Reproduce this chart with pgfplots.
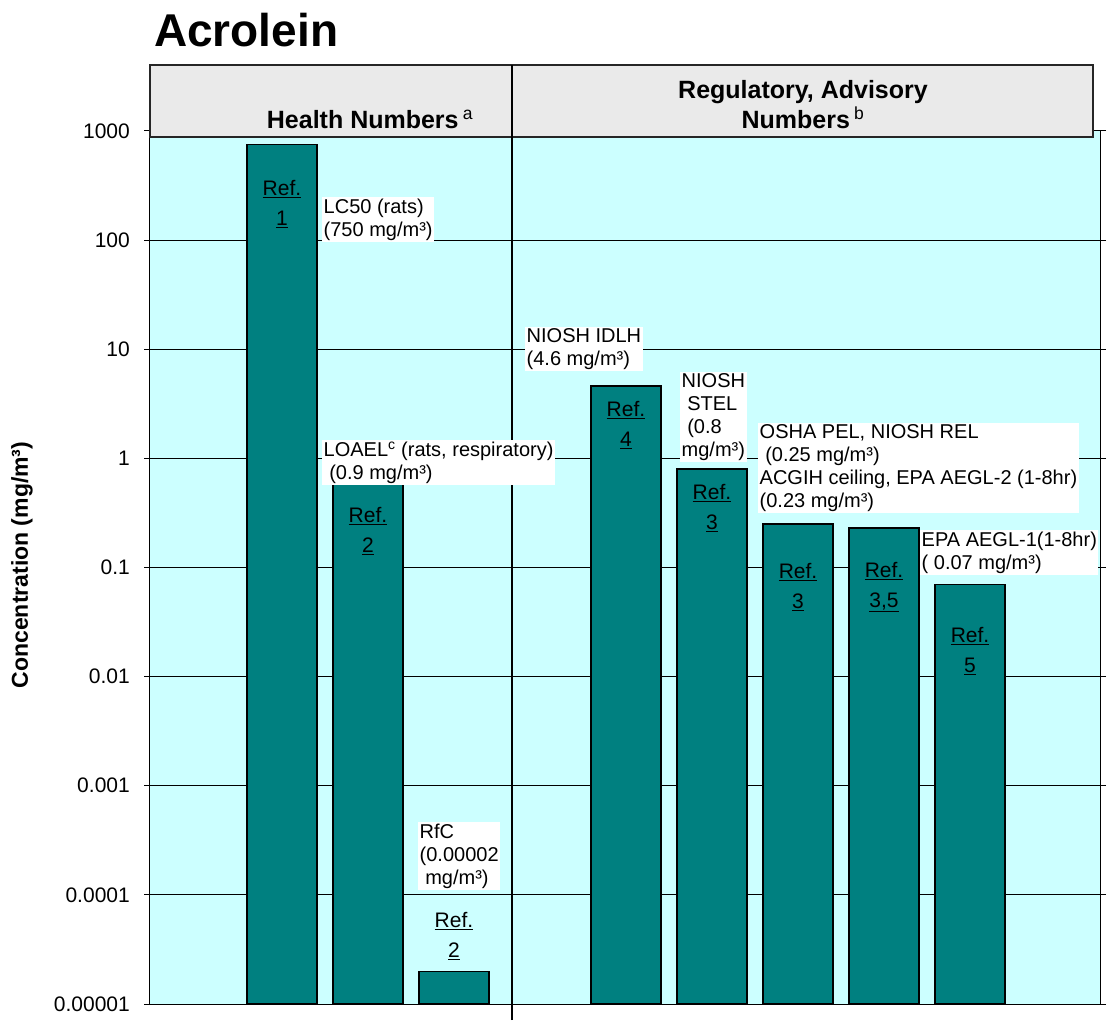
\documentclass[border=0pt]{standalone}
\usepackage{pgfplots}
\pgfplotsset{compat=1.18}
\usepackage{fontspec}
\setmainfont{Liberation Sans}

\definecolor{plotbg}{HTML}{CCFFFF}
\definecolor{barteal}{HTML}{008080}
\definecolor{headgray}{HTML}{EAEAEA}

\newcommand{\ann}{\fontsize{20}{23}\selectfont}
\newcommand{\reffont}{\fontsize{21}{30}\selectfont}
\newcommand{\refl}[1]{\underline{Ref.}\\\underline{#1}}

\begin{document}
\begin{tikzpicture}[x=1pt,y=1pt]
\useasboundingbox (-150,-19) rectangle (964,1004);
\begin{axis}[
  at={(0,0)}, anchor=south west,
  scale only axis, width=950pt, height=873pt,
  ymode=log, ymin=1e-5, ymax=1000,
  log origin y=infty,
  xmin=-0.535, xmax=10.512,
  ybar, bar width=70pt,
  xtick=\empty,
  ytick={1e-5,1e-4,1e-3,1e-2,1e-1,1,10,100,1000},
  yticklabels={0.00001,0.0001,0.001,0.01,0.1,1,10,100,1000},
  yminorticks=false,
  ymajorgrids, grid style={black, line width=1pt},
  tick align=outside, major tick length=6pt,
  ytick style={black, line width=1pt},
  yticklabel style={font=\fontsize{21}{21}\selectfont, inner sep=0pt, xshift=-14pt},
  axis background/.style={fill=plotbg},
  axis line style={black, line width=1pt},
]
\addplot[fill=barteal, draw=black, line width=1.2pt] coordinates {
  (1,750) (2,0.9) (3,0.00002) (5,4.6) (6,0.8) (7,0.25) (8,0.23) (9,0.07)};
\end{axis}

% header boxes and divider
\draw[fill=headgray, draw=black!85, line width=1.2pt] (0,867) rectangle (943,939);
\draw[black, line width=1.2pt] (362,-16) -- (362,939);

% title and axis label
\node[anchor=base west, font=\bfseries\fontsize{46}{46}\selectfont, inner sep=0pt] at (4,957) {Acrolein};
\node[rotate=90, font=\bfseries\fontsize{23}{23}\selectfont] at (-128,439) {Concentration (mg/m³)};

% header texts
\node[font=\bfseries\fontsize{25}{30}\selectfont] at (220,885) {Health Numbers\,\textsuperscript{\mdseries a}};
\node[font=\bfseries\fontsize{25}{30}\selectfont, align=center] at (653,899) {Regulatory, Advisory\\Numbers\,\textsuperscript{\mdseries b}};

% value annotations
\tikzset{ann/.style={anchor=north west, fill=white, inner sep=1.5pt, align=left, font=\ann}}
\node[ann] at (172,807) {LC50 (rats)\\(750 mg/m³)};
\node[ann] at (172,564) {LOAEL\textsuperscript{c} (rats, respiratory)\\\ (0.9 mg/m³)};
\node[ann] at (268,182) {RfC\\(0.00002\\\ mg/m³)};
\node[ann] at (375,677) {NIOSH IDLH\\(4.6 mg/m³)};
\node[ann] at (530,632) {NIOSH\\\ STEL\\\ (0.8\\mg/m³)};
\node[ann] at (608,581) {OSHA PEL, NIOSH REL\\\ (0.25 mg/m³)\\ACGIH ceiling, EPA AEGL-2 (1-8hr)\\(0.23 mg/m³)};
\node[ann] at (770,474) {EPA AEGL-1(1-8hr)\\( 0.07 mg/m³)};

% reference labels
\tikzset{refn/.style={align=center, font=\reffont, inner sep=0pt}}
\node[refn] at (132,800) {\refl{1}};
\node[refn] at (218,473) {\refl{2}};
\node[refn] at (304,68) {\refl{2}};
\node[refn] at (476,579) {\refl{4}};
\node[refn] at (562,496) {\refl{3}};
\node[refn] at (648,417) {\refl{3}};
\node[refn] at (734,417) {\refl{3,5}};
\node[refn] at (820,353) {\refl{5}};
\end{tikzpicture}
\end{document}
